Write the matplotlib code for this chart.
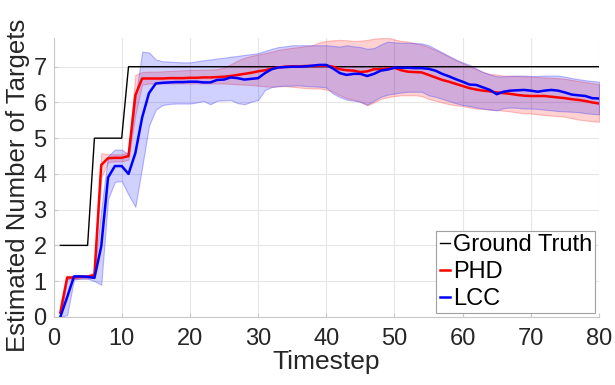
import numpy as np
import matplotlib.pyplot as plt

plt.rcParams['font.family'] = ['Liberation Sans', 'DejaVu Sans']

# timesteps 1..80
timestep = np.arange(1, 81)

ground_truth = [2] * 5 + [5] * 5 + [7] * 70

phd_mean = [0.12, 1.10, 1.10, 1.12, 1.12, 1.17, 4.25, 4.44, 4.45, 4.45,
            4.50, 6.20, 6.67, 6.67, 6.67, 6.67, 6.68, 6.68, 6.68, 6.69,
            6.69, 6.70, 6.70, 6.71, 6.72, 6.74, 6.77, 6.80, 6.83, 6.87,
            6.90, 6.95, 6.98, 7.00, 7.01, 7.01, 7.02, 7.02, 7.02, 7.03,
            7.00, 6.93, 6.90, 6.89, 6.85, 6.87, 6.93, 6.93, 6.95, 6.97,
            6.90, 6.86, 6.85, 6.84, 6.77, 6.70, 6.63, 6.58, 6.52, 6.46,
            6.40, 6.36, 6.33, 6.31, 6.28, 6.26, 6.24, 6.21, 6.19, 6.18,
            6.18, 6.18, 6.16, 6.14, 6.12, 6.09, 6.07, 6.04, 6.00, 5.97]

phd_upper = [0.30, 1.15, 1.15, 1.17, 1.17, 1.25, 4.58, 4.55, 4.55, 4.55,
             4.60, 6.77, 6.85, 6.86, 6.86, 6.87, 6.88, 6.89, 6.90, 6.91,
             6.91, 6.92, 6.92, 6.93, 6.98, 7.07, 7.17, 7.25, 7.30, 7.34,
             7.38, 7.42, 7.47, 7.50, 7.53, 7.55, 7.58, 7.60, 7.68, 7.72,
             7.74, 7.75, 7.74, 7.72, 7.73, 7.75, 7.78, 7.80, 7.82, 7.76,
             7.72, 7.70, 7.66, 7.62, 7.55, 7.47, 7.38, 7.28, 7.19, 7.10,
             7.01, 6.93, 6.85, 6.80, 6.78, 6.75, 6.75, 6.74, 6.73, 6.72,
             6.71, 6.70, 6.69, 6.68, 6.66, 6.63, 6.60, 6.57, 6.54, 6.51]

phd_lower = [0.00, 1.05, 1.05, 1.07, 1.07, 1.10, 3.90, 4.33, 4.35, 4.35,
             4.40, 5.65, 6.50, 6.53, 6.53, 6.53, 6.53, 6.53, 6.53, 6.53,
             6.53, 6.53, 6.53, 6.53, 6.53, 6.52, 6.51, 6.50, 6.49, 6.47,
             6.45, 6.44, 6.45, 6.46, 6.44, 6.42, 6.40, 6.39, 6.39, 6.36,
             6.30, 6.20, 6.12, 6.08, 6.02, 5.92, 6.00, 6.10, 6.15, 6.18,
             6.20, 6.20, 6.20, 6.18, 6.10, 6.05, 6.00, 5.95, 5.92, 5.90,
             5.86, 5.83, 5.82, 5.80, 5.79, 5.77, 5.75, 5.72, 5.70, 5.69,
             5.67, 5.65, 5.63, 5.62, 5.60, 5.56, 5.52, 5.50, 5.47, 5.46]

lcc_mean = [0.00, 0.55, 1.13, 1.13, 1.12, 1.09, 1.97, 3.90, 4.22, 4.22,
            4.00, 4.58, 5.58, 6.26, 6.53, 6.55, 6.56, 6.57, 6.57, 6.58,
            6.58, 6.56, 6.56, 6.63, 6.64, 6.70, 6.68, 6.64, 6.66, 6.68,
            6.82, 6.93, 6.98, 6.99, 7.00, 7.00, 7.01, 7.03, 7.05, 7.05,
            6.95, 6.82, 6.77, 6.80, 6.80, 6.74, 6.80, 6.89, 6.92, 6.97,
            6.97, 6.97, 6.96, 6.96, 6.94, 6.89, 6.80, 6.73, 6.65, 6.58,
            6.50, 6.49, 6.42, 6.35, 6.23, 6.30, 6.33, 6.34, 6.35, 6.33,
            6.30, 6.33, 6.35, 6.33, 6.28, 6.22, 6.20, 6.18, 6.12, 6.11]

lcc_upper = [0.10, 1.05, 1.17, 1.17, 1.17, 1.20, 3.00, 4.50, 4.68, 4.68,
             4.55, 6.10, 7.42, 7.40, 7.20, 7.15, 7.14, 7.13, 7.12, 7.12,
             7.15, 7.18, 7.20, 7.23, 7.25, 7.28, 7.30, 7.33, 7.35, 7.38,
             7.44, 7.50, 7.55, 7.57, 7.60, 7.60, 7.60, 7.60, 7.60, 7.60,
             7.58, 7.56, 7.60, 7.57, 7.55, 7.50, 7.52, 7.62, 7.70, 7.68,
             7.67, 7.67, 7.66, 7.65, 7.60, 7.50, 7.40, 7.30, 7.20, 7.12,
             7.05, 6.95, 6.85, 6.78, 6.73, 6.73, 6.74, 6.75, 6.75, 6.74,
             6.74, 6.75, 6.75, 6.75, 6.72, 6.68, 6.65, 6.62, 6.60, 6.58]

lcc_lower = [0.00, 0.05, 1.05, 1.07, 1.07, 1.00, 0.90, 3.30, 3.78, 3.80,
             3.42, 3.08, 4.20, 5.35, 5.80, 5.93, 5.96, 5.97, 5.97, 5.97,
             6.00, 6.04, 5.95, 6.05, 6.06, 6.07, 5.98, 5.95, 6.02, 6.07,
             6.35, 6.43, 6.46, 6.47, 6.47, 6.48, 6.46, 6.45, 6.44, 6.42,
             6.25, 6.15, 6.08, 6.05, 6.02, 5.94, 6.05, 6.16, 6.22, 6.25,
             6.28, 6.30, 6.30, 6.30, 6.20, 6.16, 6.10, 6.04, 5.98, 5.93,
             5.90, 5.86, 5.83, 5.80, 5.78, 5.84, 5.86, 5.85, 5.83, 5.83,
             5.82, 5.80, 5.78, 5.76, 5.75, 5.74, 5.73, 5.70, 5.68, 5.67]

fig = plt.figure(figsize=(6.15, 3.85), dpi=100)
ax = fig.add_axes([0.087, 0.177, 0.887, 0.724])

# shaded spread bands
ax.fill_between(timestep, phd_lower, phd_upper, facecolor=(1, 0, 0, 0.18),
                edgecolor=(1, 0.3, 0.3, 0.35), linewidth=0.8)
ax.fill_between(timestep, lcc_lower, lcc_upper, facecolor=(0, 0, 1, 0.18),
                edgecolor=(0.3, 0.3, 1, 0.4), linewidth=0.8)

ax.plot(timestep, ground_truth, color='black', linewidth=1.0, label='Ground Truth')
ax.plot(timestep, phd_mean, color='red', linewidth=1.8, label='PHD')
ax.plot(timestep, lcc_mean, color='blue', linewidth=1.8, label='LCC')

ax.set_xlim(0, 80)
ax.set_ylim(0, 7.8)
ax.set_xticks(range(0, 81, 10))
ax.set_yticks(range(0, 8))
ax.grid(True, color='#e6e6e6', linewidth=0.8)
ax.set_axisbelow(True)
for side in ['top', 'right']:
    ax.spines[side].set_visible(False)
for side in ['left', 'bottom']:
    ax.spines[side].set_color('#c8c8c8')
    ax.spines[side].set_linewidth(0.8)
ax.tick_params(direction='in', length=3, color='#c8c8c8', labelsize=17,
               labelcolor='#262626')
ax.tick_params(axis='x', pad=8)
ax.tick_params(axis='y', pad=5)

ax.set_xlabel('Timestep', fontsize=19, color='#262626', labelpad=0)
ax.set_ylabel('Estimated Number of Targets', fontsize=18.5, color='#262626')
ax.yaxis.set_label_coords(-0.044, 0.47)

leg = ax.legend(loc='lower right', fontsize=17, handlelength=0.45,
                handletextpad=0.1, borderpad=0.15, labelspacing=0.2,
                fancybox=False, framealpha=1, borderaxespad=0.15)
leg.get_frame().set_edgecolor('#a0a0a0')
leg.get_frame().set_linewidth(0.8)

fig.savefig('out.png', dpi=100)
